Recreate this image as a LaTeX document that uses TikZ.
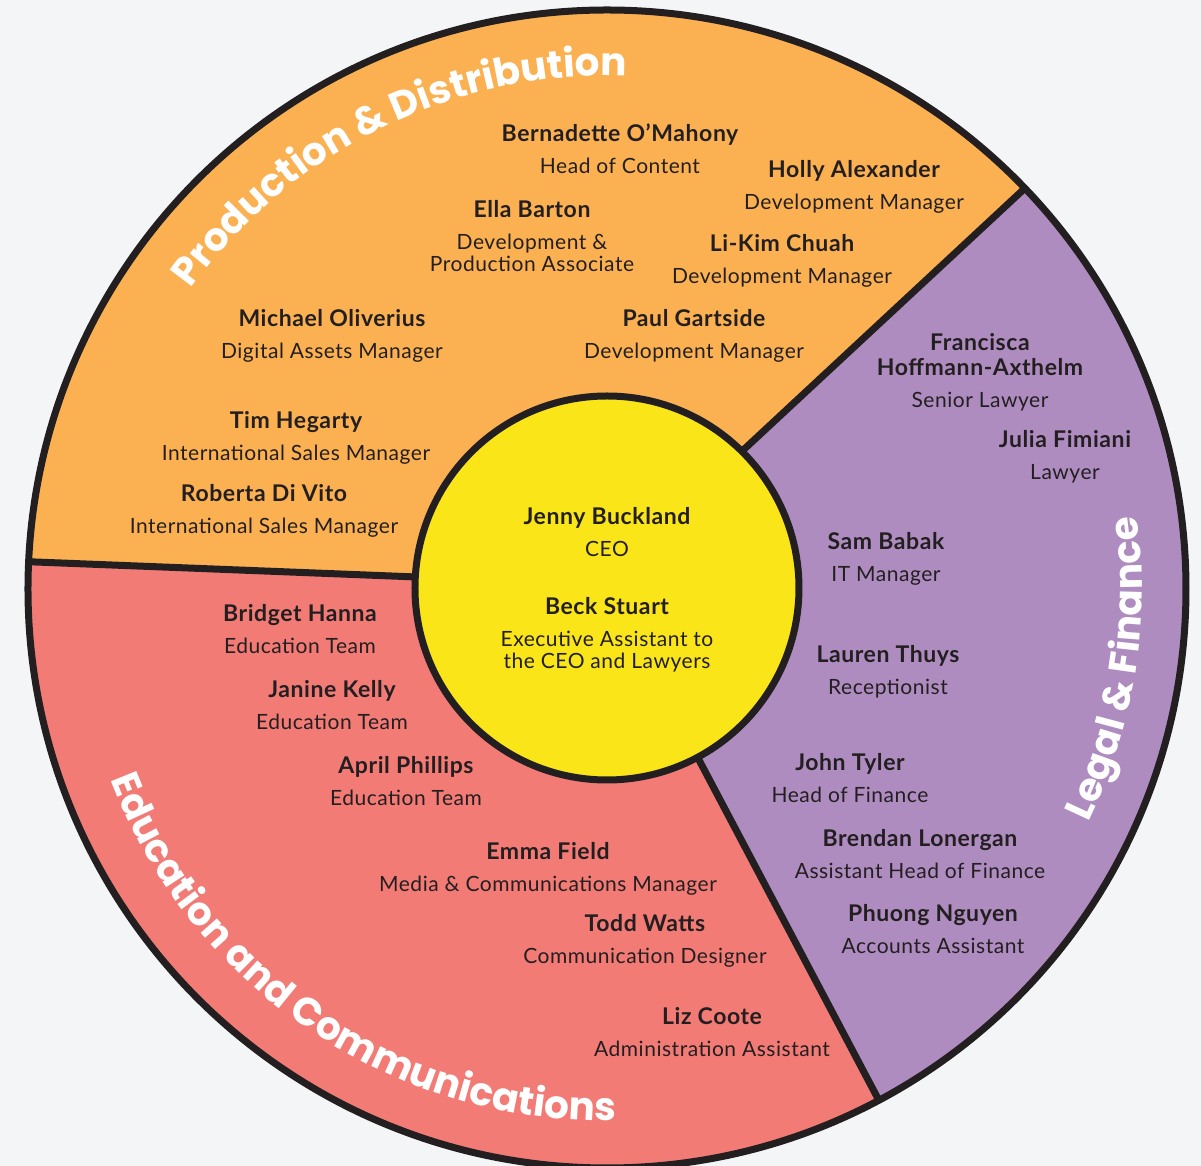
\documentclass[tikz,border=0pt]{standalone}
\usepackage{fontspec}
\setmainfont{Lato}[LetterSpace=2.5]
\newfontfamily\titlefont{Poppins}
\usetikzlibrary{decorations.text}

\definecolor{pagebg}{HTML}{F4F5F7}
\definecolor{prodfill}{HTML}{FBB152}
\definecolor{legalfill}{HTML}{AE8CC0}
\definecolor{educfill}{HTML}{F27B76}
\definecolor{ceofill}{HTML}{FAE519}
\definecolor{ink}{HTML}{231F20}

\newcommand\rolefont{\fontsize{10.5}{11}\selectfont}
\newcommand\namefont{\fontsize{11.5}{11}\selectfont\bfseries}
\newcommand\titlestyle{\titlefont\bfseries\fontsize{19.5}{20}\selectfont\color{white}}

\begin{document}
\begin{tikzpicture}[
	x=0.5pt, y=0.5pt,
	every node/.style={text=ink},
	person/.style={align=center, inner sep=0pt, font=\rolefont},
	ring/.style={draw=ink, line width=3.5pt},
	divider/.style={draw=ink, line width=3.5pt},
	title/.style={decorate, decoration={text along path, text align=center, text={|\titlestyle|#1}}}
	]
	
	% Background
	\path[use as bounding box, fill=pagebg] (-607,-577) rectangle (594,589);
	
	% Sectors
	\coordinate (pdin) at (45.6:192);
	\coordinate (pdout) at (43.8:579);
	\coordinate (edin) at (176.4:192);
	\coordinate (edout) at (177.3:579);
	\coordinate (lfin) at (-61.7:192);
	\coordinate (lfout) at (-62:579);
	
	\fill[prodfill] (pdin) -- (pdout) arc[start angle=43.8, end angle=177.3, radius=579]
		-- (edin) arc[start angle=176.4, end angle=45.6, radius=192] -- cycle;
	\fill[educfill] (edin) -- (edout) arc[start angle=177.3, end angle=298, radius=579]
		-- (lfin) arc[start angle=298.3, end angle=176.4, radius=192] -- cycle;
	\fill[legalfill] (lfin) -- (lfout) arc[start angle=-62, end angle=43.8, radius=579]
		-- (pdin) arc[start angle=45.6, end angle=-61.7, radius=192] -- cycle;
	
	% Dividers and rings
	\draw[divider] (pdin) -- (pdout);
	\draw[divider] (edin) -- (edout);
	\draw[divider] (lfin) -- (lfout);
	\draw[ring] (0,0) circle[radius=579];
	\draw[ring, fill=ceofill] (0,1) circle[radius=192];
	
	% Team titles
	\path[title={Production {\&} Distribution}] (146:513) arc[start angle=146, end angle=86, radius=513];
	\path[title={Legal {\&} Finance}] (-28:535) arc[start angle=-28, end angle=10, radius=535];
	\path[title={Education and Communications}] (-163:532) arc[start angle=-163, end angle=-85, radius=532];
	
	% Centre
	\node[person] (jenny) at (0,57) {{\namefont Jenny Buckland}\\[5pt]CEO};
	\node[person] (beck) at (0,-46) {{\namefont Beck Stuart}\\[5pt]Executive Assistant to\\the CEO and Lawyers};
	
	% Production & Distribution
	\node[person] (bernadette) at (13,440) {{\namefont Bernadette O’Mahony}\\[5pt]Head of Content};
	\node[person] (holly) at (247,402) {{\namefont Holly Alexander}\\[5pt]Development Manager};
	\node[person] (ella) at (-75,353) {{\namefont Ella Barton}\\[5pt]Development \&\\Production Associate};
	\node[person] (likim) at (175,328) {{\namefont Li-Kim Chuah}\\[5pt]Development Manager};
	\node[person] (michael) at (-275,253) {{\namefont Michael Oliverius}\\[5pt]Digital Assets Manager};
	\node[person] (paul) at (87,253) {{\namefont Paul Gartside}\\[5pt]Development Manager};
	\node[person] (tim) at (-311,151) {{\namefont Tim Hegarty}\\[5pt]International Sales Manager};
	\node[person] (roberta) at (-343,78) {{\namefont Roberta Di Vito}\\[5pt]International Sales Manager};
	
	% Legal & Finance
	\node[person] (francisca) at (373,217) {{\namefont Francisca}\\[1.5pt]{\namefont Hoffmann-Axthelm}\\[5pt]Senior Lawyer};
	\node[person] (julia) at (458,132) {{\namefont Julia Fimiani}\\[5pt]Lawyer};
	\node[person] (sam) at (279,30) {{\namefont Sam Babak}\\[5pt]IT Manager};
	\node[person] (lauren) at (281,-83) {{\namefont Lauren Thuys}\\[5pt]Receptionist};
	\node[person] (john) at (243,-189) {{\namefont John Tyler}\\[5pt]Head of Finance};
	\node[person] (brendan) at (313,-265) {{\namefont Brendan Lonergan}\\[5pt]Assistant Head of Finance};
	\node[person] (phuong) at (326,-340) {{\namefont Phuong Nguyen}\\[5pt]Accounts Assistant};
	
	% Education and Communications
	\node[person] (bridget) at (-307,-40) {{\namefont Bridget Hanna}\\[5pt]Education Team};
	\node[person] (janine) at (-275,-116) {{\namefont Janine Kelly}\\[5pt]Education Team};
	\node[person] (april) at (-201,-192) {{\namefont April Phillips}\\[5pt]Education Team};
	\node[person] (emma) at (-59,-280) {{\namefont Emma Field}\\[5pt]Media \& Communications Manager};
	\node[person] (todd) at (38,-352) {{\namefont Todd Watts}\\[5pt]Communication Designer};
	\node[person] (liz) at (105,-443) {{\namefont Liz Coote}\\[5pt]Administration Assistant};
	
\end{tikzpicture}
\end{document}
